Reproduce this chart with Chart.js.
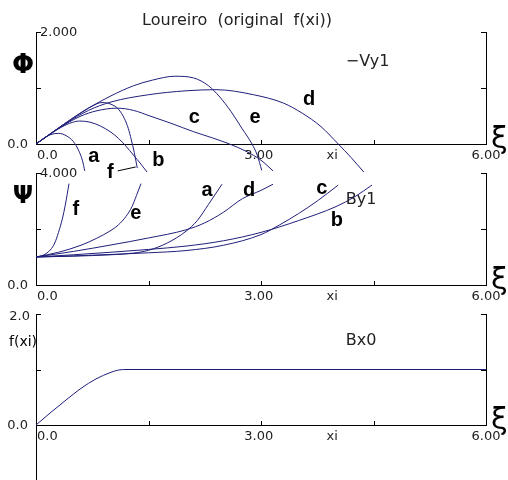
<!DOCTYPE html>
<html>
<head>
<meta charset="utf-8">
<script src="https://cdn.jsdelivr.net/npm/chart.js@4.4.1/dist/chart.umd.min.js"></script>
<style>
  body { margin: 0; background: #fff; }
  #wrap { position: relative; width: 508px; height: 480px; overflow: hidden; }
  canvas { position: absolute; left: 0; top: 0; }
</style>
</head>
<body>
<div id="wrap">
  <canvas id="phiChart" width="508" height="480"></canvas>
  <canvas id="psiChart" width="508" height="480"></canvas>
  <canvas id="fChart" width="508" height="480"></canvas>
</div>
<script>
"use strict";
// xi, value pairs
const phiA = [[0,0],[0.1,0.1],[0.2,0.17],[0.3,0.19],[0.4,0.15],[0.5,0.04],[0.57,-0.12],[0.62,-0.3],[0.65,-0.48]];
const phiB = [[0,0],[0.15,0.14],[0.3,0.27],[0.45,0.37],[0.58,0.41],[0.72,0.39],[0.86,0.32],[1.0,0.21],[1.1,0.1],[1.2,-0.04],[1.3,-0.2],[1.4,-0.36],[1.48,-0.5]];
const phiF = [[0,0],[0.2,0.19],[0.4,0.38],[0.6,0.56],[0.75,0.68],[0.88,0.74],[1.0,0.71],[1.1,0.62],[1.18,0.45],[1.23,0.28],[1.27,0.08],[1.31,-0.15],[1.35,-0.43]];
const phiC = [[0,0],[0.2,0.19],[0.4,0.36],[0.6,0.5],[0.8,0.59],[1.08,0.64],[1.3,0.6],[1.52,0.5],[1.8,0.37],[2.1,0.22],[2.35,0.11],[2.58,0.0],[2.8,-0.13],[3.0,-0.29],[3.16,-0.48]];
const phiE = [[0,0],[0.2,0.19],[0.4,0.38],[0.7,0.64],[1.0,0.86],[1.3,1.04],[1.55,1.14],[1.85,1.21],[2.1,1.18],[2.3,1.04],[2.45,0.84],[2.6,0.58],[2.75,0.27],[2.88,0.0],[2.95,-0.2],[3.01,-0.47]];
const phiD = [[0,0],[0.2,0.19],[0.4,0.37],[0.7,0.6],[1.0,0.75],[1.5,0.88],[2.0,0.95],[2.4,0.97],[2.9,0.88],[3.3,0.73],[3.55,0.55],[3.8,0.31],[4.03,0.0],[4.2,-0.24],[4.37,-0.5]];

const psiF = [[0,1],[0.1,1.07],[0.19,1.25],[0.25,1.5],[0.3,1.88],[0.35,2.35],[0.39,2.85],[0.44,3.62]];
const psiE = [[0,1],[0.3,1.17],[0.6,1.42],[0.81,1.67],[1.0,1.95],[1.1,2.15],[1.2,2.45],[1.28,2.8],[1.34,3.2],[1.4,3.62]];
const psiA = [[0,1],[0.5,1.03],[1.0,1.08],[1.3,1.14],[1.5,1.24],[1.75,1.5],[2.0,1.92],[2.15,2.3],[2.3,2.88],[2.48,3.6]];
const psiD = [[0,1],[0.5,1.2],[1.0,1.43],[1.5,1.68],[2.0,1.97],[2.25,2.22],[2.5,2.6],[2.75,3.08],[3.0,3.38],[3.16,3.6]];
const psiC = [[0,1],[0.5,1.04],[1.0,1.09],[1.5,1.15],[2.0,1.23],[2.5,1.42],[3.0,1.8],[3.25,2.15],[3.5,2.55],[3.75,3.0],[4.03,3.57]];
const psiB = [[0,1],[0.5,1.08],[1.0,1.17],[1.5,1.27],[2.0,1.39],[2.5,1.58],[3.0,1.88],[3.5,2.3],[4.0,2.8],[4.25,3.15],[4.48,3.57]];

const fXi = [[0,0],[0.2,0.23],[0.4,0.45],[0.6,0.66],[0.8,0.83],[1.0,0.95],[1.1,0.99],[1.2,1.0],[6.0,1.0]];

const xiTicks = [1.5, 3, 4.5];
const xTickLabels = ['0.0', '3.00', 'xi', '6.00'];
const xTickValues = [0, 2.97, 3.95, 6];

const lineColor = '#1f1f7a';
const tickFont = '13px "DejaVu Sans"';
const letterFont = 'bold 20px "Liberation Sans"';
const textColor = '#222';

function toPoints(arr) {
  return arr.map(p => ({ x: p[0], y: p[1] }));
}

function text(ctx, s, x, y, font, align, color) {
  ctx.font = font;
  ctx.textAlign = align;
  ctx.textBaseline = 'middle';
  ctx.fillStyle = color || textColor;
  ctx.fillText(s, x, y);
}

function decorPlugin(cfg) {
  return {
    id: 'decor',
    afterDraw(chart) {
      const ctx = chart.ctx;
      const xs = chart.scales.x, ys = chart.scales.y;
      const area = chart.chartArea;
      ctx.save();
      ctx.strokeStyle = '#000';
      ctx.lineWidth = 1;
      ctx.beginPath();
      xiTicks.forEach(v => {
        const px = Math.round(xs.getPixelForValue(v)) + 0.5;
        ctx.moveTo(px, area.bottom);
        ctx.lineTo(px, area.bottom - 4);
      });
      [ys.max / 2, ys.max].forEach(v => {
        const py = Math.round(ys.getPixelForValue(v)) + 0.5;
        ctx.moveTo(area.left, py); ctx.lineTo(area.left + 5, py);
        ctx.moveTo(area.right, py); ctx.lineTo(area.right - 5, py);
      });
      if (cfg.axisDown) {
        const px = Math.round(area.left) + 0.5;
        ctx.moveTo(px, area.bottom);
        ctx.lineTo(px, chart.height);
      }
      if (cfg.leader) {
        const l = cfg.leader;
        ctx.moveTo(xs.getPixelForValue(l[0]), ys.getPixelForValue(l[1]));
        ctx.lineTo(xs.getPixelForValue(l[2]), ys.getPixelForValue(l[3]));
      }
      ctx.stroke();

      // tick labels
      xTickLabels.forEach((s, i) => {
        text(ctx, s, xs.getPixelForValue(xTickValues[i]) + (i === 0 ? 1 : 0), area.bottom + 12, tickFont, i === 0 ? 'left' : 'center');
      });
      text(ctx, '0.0', area.left - 8, area.bottom + 1, tickFont, 'right');
      if (cfg.topLeft) {
        text(ctx, cfg.topLabel, area.left - 6, area.top + 3, tickFont, 'right');
      } else {
        text(ctx, cfg.topLabel, area.left + 4, area.top + 1, tickFont, 'left');
      }
      // axis symbols
      text(ctx, 'ξ', area.right + 5, area.bottom - 4, '30px "DejaVu Sans"', 'left', '#000');
      text(ctx, cfg.symbol, area.left - 13, cfg.symbolY, cfg.symbolFont, 'center', '#000');
      // panel name
      text(ctx, cfg.name[0], xs.getPixelForValue(cfg.name[1]), ys.getPixelForValue(cfg.name[2]), '16px "DejaVu Sans"', 'left');
      // curve letters
      (cfg.letters || []).forEach(l => {
        text(ctx, l[0], xs.getPixelForValue(l[1]), ys.getPixelForValue(l[2]), letterFont, 'center', '#000');
      });
      if (cfg.title) {
        text(ctx, cfg.title, 237, 21, '16px "DejaVu Sans"', 'center');
      }
      ctx.restore();
    }
  };
}

function makePanel(id, top, bottom, yMax, series, cfg) {
  const hidden = { display: false };
  const axisBase = {
    ticks: hidden,
    grid: { display: false, drawTicks: false },
    border: { display: true, color: '#000', width: 1 }
  };
  return new Chart(document.getElementById(id), {
    type: 'line',
    data: {
      datasets: series.map(s => ({
        data: toPoints(s),
        borderColor: lineColor,
        borderWidth: 1,
        pointRadius: 0,
        fill: false,
        clip: false,
        cubicInterpolationMode: 'monotone'
      }))
    },
    options: {
      responsive: false,
      animation: false,
      events: [],
      layout: { padding: { left: 36, right: 22, top: top, bottom: 480 - bottom } },
      plugins: { legend: hidden, tooltip: { enabled: false }, title: hidden },
      scales: {
        x: Object.assign({ type: 'linear', min: 0, max: 6, afterFit: s => { s.height = 0; } }, axisBase),
        y: Object.assign({ type: 'linear', min: 0, max: yMax, position: 'left', afterFit: s => { s.width = 0; } }, axisBase),
        yRight: Object.assign({ type: 'linear', min: 0, max: yMax, position: 'right', afterFit: s => { s.width = 0; } }, axisBase)
      }
    },
    plugins: [decorPlugin(cfg)]
  });
}

makePanel('phiChart', 32, 144, 2, [phiA, phiB, phiF, phiC, phiE, phiD], {
  title: 'Loureiro  (original  f(xi))',
  topLabel: '2.000',
  symbol: 'Φ', symbolY: 66, symbolFont: 'bold 26px "DejaVu Sans"',
  name: ['\u2212Vy1', 4.13, 1.46],
  leader: [1.09, -0.48, 1.33, -0.41],
  letters: [['a', 0.77, -0.23], ['f', 0.99, -0.5], ['b', 1.63, -0.29], ['c', 2.11, 0.48], ['e', 2.92, 0.48], ['d', 3.64, 0.79]]
});

makePanel('psiChart', 173, 285, 4, [psiF, psiE, psiA, psiD, psiC, psiB], {
  topLabel: '4.000',
  symbol: 'Ψ', symbolY: 197, symbolFont: 'bold 24px "DejaVu Sans"',
  name: ['By1', 4.13, 3.04],
  letters: [['f', 0.53, 2.68], ['e', 1.33, 2.57], ['a', 2.28, 3.36], ['d', 2.84, 3.39], ['c', 3.81, 3.43], ['b', 4.01, 2.32]]
});

makePanel('fChart', 314, 425, 2, [fXi], {
  topLabel: '2.0', topLeft: true,
  symbol: 'f(xi)', symbolY: 342, symbolFont: '14px "DejaVu Sans"',
  name: ['Bx0', 4.13, 1.51],
  axisDown: true
});
</script>
</body>
</html>
